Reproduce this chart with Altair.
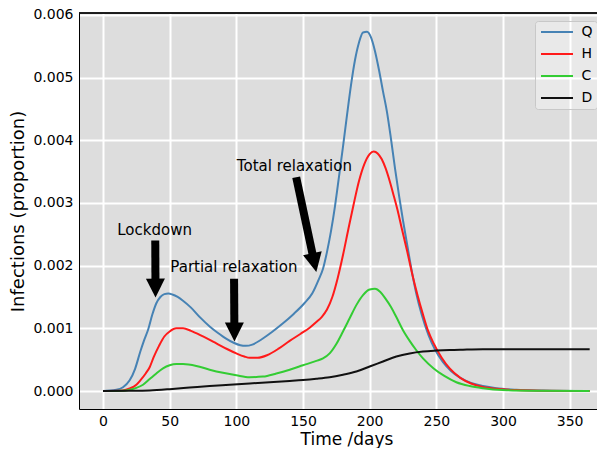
import math
import altair as alt
import pandas as pd

# ---------------- data (values in thousandths of the population) ----------------
series_names = ["Q", "H", "C", "D"]
series_colors = ["#4682b4", "#ff1a1a", "#33cc33", "#111111"]

t_q = [0, 10, 15, 20, 24, 28, 31, 34, 37, 40, 43, 46, 49, 52, 56, 60, 66, 73, 80, 86,
       92, 98, 103, 107, 112, 118, 126, 135, 143, 151, 157, 162, 165, 168, 171, 174, 177, 180, 183, 186,
       189, 192, 195, 198, 201, 204, 207, 210, 213, 216, 219, 222, 225, 228, 231, 235, 239, 244, 249, 255,
       261, 268, 276, 285, 295, 310, 330, 365]
v_q = [0, 0.02, 0.06, 0.17, 0.35, 0.63, 0.82, 0.99, 1.22, 1.40, 1.50, 1.545, 1.555, 1.54, 1.50, 1.44, 1.33, 1.17, 1.03, 0.93,
       0.84, 0.77, 0.73, 0.72, 0.74, 0.81, 0.93, 1.08, 1.23, 1.40, 1.56, 1.79, 1.95, 2.22, 2.55, 2.95, 3.42, 3.90, 4.40, 4.88,
       5.28, 5.56, 5.72, 5.73, 5.64, 5.42, 5.12, 4.78, 4.45, 4.02, 3.55, 3.12, 2.72, 2.35, 1.98, 1.55, 1.22, 0.90, 0.66, 0.46,
       0.32, 0.21, 0.13, 0.08, 0.045, 0.02, 0.008, 0]

t_h = [0, 15, 20, 25, 28, 32, 35, 38, 42, 46, 50, 55, 60, 66, 75, 85, 93, 100, 106, 110,
       116, 123, 132, 140, 148, 155, 160, 164, 168, 172, 176, 180, 184, 188, 192, 196, 200, 203, 206, 209,
       212, 215, 218, 221, 224, 228, 232, 236, 240, 244, 248, 254, 260, 268, 276, 285, 295, 310, 330, 365]
v_h = [0, 0.01, 0.04, 0.10, 0.17, 0.28, 0.38, 0.54, 0.72, 0.87, 0.95, 1.00, 1.00, 0.96, 0.87, 0.76, 0.67, 0.60, 0.55, 0.53,
       0.53, 0.57, 0.68, 0.80, 0.91, 1.01, 1.10, 1.18, 1.30, 1.50, 1.80, 2.17, 2.58, 2.98, 3.35, 3.62, 3.78, 3.82, 3.79, 3.70,
       3.55, 3.35, 3.12, 2.88, 2.60, 2.24, 1.86, 1.52, 1.22, 0.95, 0.76, 0.53, 0.36, 0.21, 0.12, 0.065, 0.035, 0.015, 0.005, 0]

t_c = [0, 15, 20, 25, 30, 35, 40, 45, 50, 55, 60, 70, 80, 90, 100, 110, 120, 130, 140, 150,
       160, 165, 170, 175, 180, 185, 190, 195, 200, 204, 208, 212, 216, 220, 225, 230, 235, 240, 248, 256,
       265, 275, 285, 300, 320, 365]
v_c = [0, 0.005, 0.02, 0.05, 0.10, 0.19, 0.28, 0.36, 0.41, 0.43, 0.43, 0.40, 0.34, 0.29, 0.25, 0.22, 0.23, 0.28, 0.34, 0.41,
       0.48, 0.52, 0.60, 0.75, 0.95, 1.16, 1.37, 1.53, 1.62, 1.63, 1.58, 1.47, 1.34, 1.18, 0.97, 0.80, 0.65, 0.52, 0.36, 0.24,
       0.14, 0.08, 0.045, 0.015, 0.005, 0]

t_d = [0, 20, 35, 50, 65, 80, 95, 110, 125, 140, 150, 160, 170, 180, 190, 200, 210, 220, 230, 240,
       250, 260, 270, 285, 300, 330, 365]
v_d = [0, 0.003, 0.01, 0.03, 0.055, 0.08, 0.10, 0.12, 0.14, 0.16, 0.175, 0.195, 0.22, 0.26, 0.31, 0.39, 0.47, 0.55, 0.60, 0.63,
       0.645, 0.655, 0.66, 0.665, 0.665, 0.665, 0.665]

x_ticks = [0, 50, 100, 150, 200, 250, 300, 350]
y_ticks = [0.0, 0.001, 0.002, 0.003, 0.004, 0.005, 0.006]

# annotations
ann_text = ["Lockdown", "Partial relaxation", "Total relaxation"]
ann_t = [10.7, 50.5, 100.4]
ann_v = [0.00249, 0.00190, 0.00351]
arrow_t0 = [39.2, 98.3, 144.9]
arrow_v0 = [0.00240, 0.00179, 0.00341]
arrow_t1 = [39.4, 98.6, 160.0]
arrow_v1 = [0.00149, 0.00079, 0.00190]

# ---------------- layout ----------------
W, H = 518, 396
x_dom = [-18.0, 370.5]
y_dom = [-0.000287, 0.00603]
FONT = "DejaVu Sans"

rows = []
for name, ts, vs in zip(series_names, [t_q, t_h, t_c, t_d], [v_q, v_h, v_c, v_d]):
    for t, v in zip(ts, vs):
        rows.append({"series": name, "t": t, "v": v / 1000.0})
df = pd.DataFrame(rows)

kx = W / (x_dom[1] - x_dom[0])
ky = H / (y_dom[1] - y_dom[0])
arr_rows = []
for t0, v0, t1, v1 in zip(arrow_t0, arrow_v0, arrow_t1, arrow_v1):
    dx = (t1 - t0) * kx
    dy = (v0 - v1) * ky
    th = math.atan2(dx, dy)
    L = 14.0
    arr_rows.append({
        "t0": t0, "v0": v0, "t1": t1, "v1": v1,
        "te": t1 - L * math.sin(th) / kx,
        "ve": v1 + L * math.cos(th) / ky,
        "ang": (360 - math.degrees(th)) % 360,
    })
adf = pd.DataFrame(arr_rows)
tdf = pd.DataFrame({"text": ann_text, "t": ann_t, "v": ann_v})

xs = alt.Scale(domain=x_dom, nice=False, zero=False)
ys = alt.Scale(domain=y_dom, nice=False, zero=False)

lines = alt.Chart(df).mark_line(strokeWidth=2, interpolate="monotone", clip=True).encode(
    x=alt.X("t:Q", scale=xs,
            axis=alt.Axis(values=x_ticks, title="Time /days", titleX=267.5, titleY=35,
                          titleBaseline="alphabetic", titleAlign="center", labelPadding=5,
                          titleFontSize=17)),
    y=alt.Y("v:Q", scale=ys,
            axis=alt.Axis(values=y_ticks, format=".3f", title="Infections (proportion)",
                          titleX=-61, titleY=198, titleAngle=270, titleAlign="center",
                          titleBaseline="middle", labelPadding=6)),
    color=alt.Color("series:N", sort=series_names,
                    scale=alt.Scale(domain=series_names, range=series_colors),
                    legend=alt.Legend(title=None, orient="none", legendX=456, legendY=8,
                                      symbolType="M-1,0L5.4,0", symbolSize=100, symbolStrokeWidth=2,
                                      labelFontSize=14, labelFont=FONT, labelOffset=28.6,
                                      fillColor="rgba(255,255,255,0.35)", strokeColor="#c8c8c8",
                                      cornerRadius=3, padding=4, rowPadding=8)),
    order=alt.Order("series_order:Q"),
).transform_calculate(
    series_order="indexof(['Q','H','C','D'], datum.series)"
)

shafts = alt.Chart(adf).mark_rule(color="black", strokeWidth=8).encode(
    x=alt.X("t0:Q", scale=xs), y=alt.Y("v0:Q", scale=ys),
    x2="te:Q", y2="ve:Q",
)
heads = alt.Chart(adf).mark_point(shape="M0,0L-1,-2L1,-2Z", filled=True, color="black",
                                  opacity=1, size=361, strokeWidth=0).encode(
    x=alt.X("t1:Q", scale=xs), y=alt.Y("v1:Q", scale=ys),
    angle=alt.Angle("ang:Q", scale=None),
)
texts = alt.Chart(tdf).mark_text(align="left", baseline="alphabetic", fontSize=15,
                                 font=FONT, color="black").encode(
    x=alt.X("t:Q", scale=xs), y=alt.Y("v:Q", scale=ys), text="text:N",
)
top_border = alt.Chart(tdf).mark_rule(color="black", strokeWidth=1).encode(
    x=alt.value(0), x2=alt.value(W), y=alt.value(0),
)

chart = alt.layer(lines, shafts, heads, texts, top_border).properties(
    width=W, height=H,
    autosize=alt.AutoSizeParams(type="none"),
    padding={"left": 71, "top": 5, "right": 0, "bottom": 39},
).configure(
    font=FONT,
).configure_view(
    fill="#dddddd", stroke=None,
).configure_axis(
    grid=True, gridColor="white", gridWidth=2, gridOpacity=1,
    domainColor="black", domainWidth=1, ticks=False,
    labelFont=FONT, labelFontSize=14, labelColor="black",
    titleFont=FONT, titleFontSize=18, titleFontWeight="normal", titleColor="black",
)

chart.save("out.html", embed_options={"renderer": "svg", "actions": False})
